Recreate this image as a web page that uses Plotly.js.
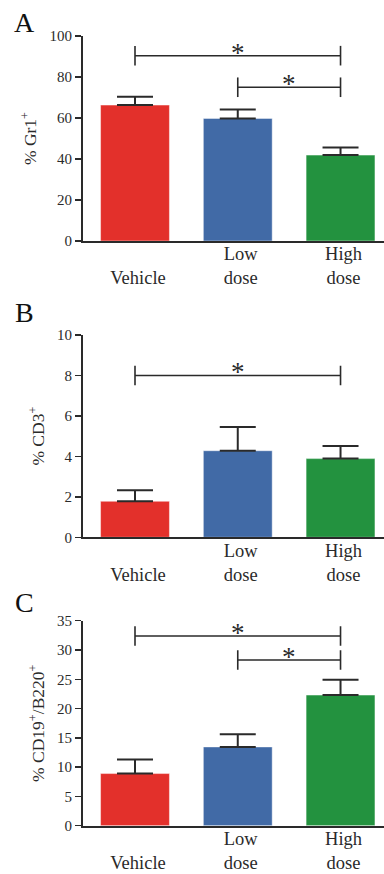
<!DOCTYPE html>
<html>
<head>
<meta charset="utf-8">
<script src="https://cdn.plot.ly/plotly-3.0.1.min.js"></script>
<style>html,body{margin:0;padding:0;background:#fff;}#chart{width:384px;height:874px;}</style>
</head>
<body>
<div id="chart"></div>
<script>
// Data
const categories = ["Vehicle", "Low dose", "High dose"];
const tickLabels = ["<br>Vehicle", "Low<br>dose", "High<br>dose"];
const colors = ["#e3302b", "#416aa6", "#23923f"];

const gr1Mean = [66.3, 59.8, 41.9];
const gr1Err = [4.1, 4.3, 3.7];
const cd3Mean = [1.78, 4.28, 3.89];
const cd3Err = [0.54, 1.17, 0.62];
const cd19Mean = [8.9, 13.45, 22.3];
const cd19Err = [2.4, 2.15, 2.6];

// significance brackets: from category index, to category index, height
const sigA_from = [0, 1], sigA_to = [2, 2], sigA_y = [90.4, 75.0];
const sigB_from = [0], sigB_to = [2], sigB_y = [8.0];
const sigC_from = [0, 1], sigC_to = [2, 2], sigC_y = [32.4, 28.3];

const panels = [
  {mean: gr1Mean, err: gr1Err, from: sigA_from, to: sigA_to, sy: sigA_y, range: [0, 100], dtick: 20,
   title: "% Gr1<sup>+</sup>", label: "A", dom: [1 - 241/874, 1 - 36/874], labY: 1 - 22.5/874},
  {mean: cd3Mean, err: cd3Err, from: sigB_from, to: sigB_to, sy: sigB_y, range: [0, 10], dtick: 2,
   title: "% CD3<sup>+</sup>", label: "B", dom: [1 - 537.3/874, 1 - 335/874], labY: 1 - 312.5/874},
  {mean: cd19Mean, err: cd19Err, from: sigC_from, to: sigC_to, sy: sigC_y, range: [0, 35], dtick: 5,
   title: "% CD19<sup>+</sup>/B220<sup>+</sup>", label: "C", dom: [1 - 825.7/874, 1 - 620.7/874], labY: 1 - 602.5/874}
];

const font = "'Liberation Serif', 'Times New Roman', serif";
const ink = "#2a2a2a";
const traces = [];
const annotations = [];
const layout = {
  width: 384, height: 874,
  margin: {l: 83, r: 0, t: 0, b: 0},
  paper_bgcolor: "#ffffff", plot_bgcolor: "#ffffff",
  showlegend: false,
  font: {family: font, color: ink},
  annotations: annotations
};

panels.forEach((p, i) => {
  const n = i === 0 ? "" : String(i + 1);
  const xa = "x" + n, ya = "y" + n;
  traces.push({
    type: "bar", x: categories, y: p.mean, xaxis: xa, yaxis: ya, width: 0.67,
    marker: {color: colors, line: {color: "rgba(255,255,255,0.45)", width: 1}},
    error_y: {type: "data", symmetric: false, array: p.err, arrayminus: p.mean.map(() => 0),
              width: 18, thickness: 2, color: ink},
    hoverinfo: "none"
  });
  p.sy.forEach((yv, k) => {
    traces.push({
      type: "scatter", mode: "lines+markers", xaxis: xa, yaxis: ya,
      x: [categories[p.from[k]], categories[p.to[k]]], y: [yv, yv],
      line: {color: ink, width: 1.6},
      marker: {symbol: "line-ns-open", size: 14, line: {color: ink, width: 1.6}},
      hoverinfo: "none"
    });
    annotations.push({
      xref: xa, yref: ya, x: (p.from[k] + p.to[k]) / 2, y: yv,
      text: "*", showarrow: false, yanchor: "bottom", yshift: -14,
      font: {family: font, size: 27, color: ink}
    });
  });
  annotations.push({
    xref: "paper", yref: "paper", x: (25 - 83) / 301, y: p.labY, xanchor: "center", yanchor: "middle",
    text: p.label, showarrow: false, font: {family: font, size: 28, color: "#111"}
  });
  layout["xaxis" + n] = {
    domain: [0, 1], anchor: ya, type: "category", range: [-0.506, 2.423],
    showline: true, linewidth: 2, linecolor: ink, ticks: "", showgrid: false, zeroline: false,
    tickvals: categories, ticktext: tickLabels, ticklabelshift: 3, ticklabelstandoff: -5,
    tickfont: {family: font, size: 18.5, color: ink}, fixedrange: true
  };
  layout["yaxis" + n] = {
    domain: p.dom, anchor: xa, range: p.range, dtick: p.dtick, tick0: 0,
    showline: true, linewidth: 2, linecolor: ink, ticks: "outside", ticklen: 6, tickwidth: 1.5, tickcolor: ink,
    showgrid: false, zeroline: false, tickfont: {family: font, size: 15, color: ink},
    title: {text: p.title, font: {family: font, size: 17.5, color: ink}, standoff: 8},
    fixedrange: true
  };
});

Plotly.newPlot("chart", traces, layout, {staticPlot: true, displayModeBar: false});
</script>
</body>
</html>
